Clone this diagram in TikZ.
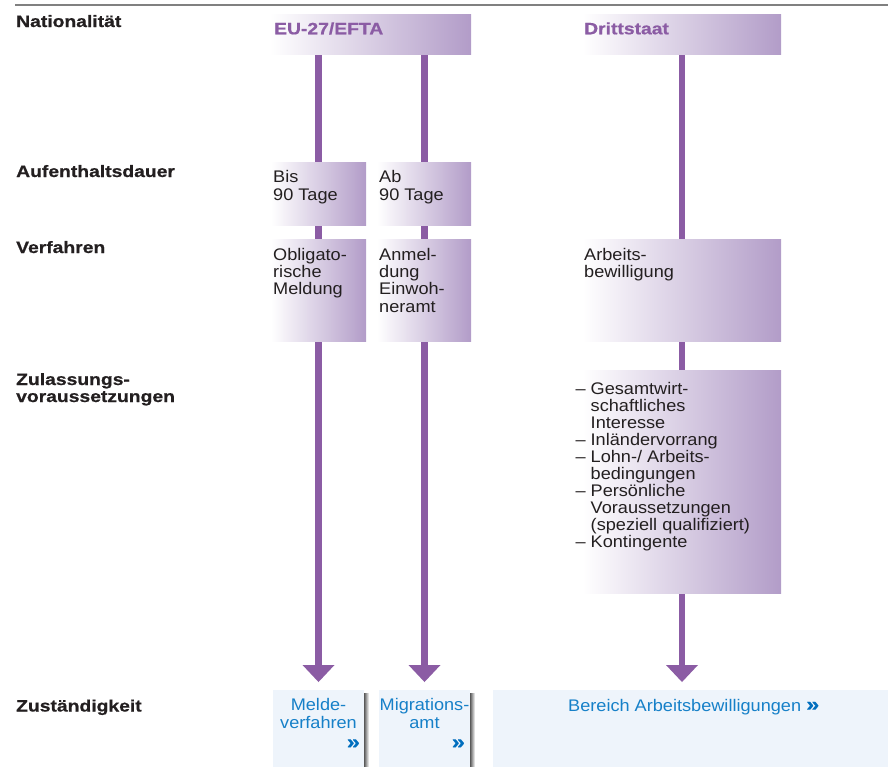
\documentclass[tikz,border=0pt]{standalone}
\usepackage{fontspec}
\setmainfont{Liberation Sans}
\newfontfamily\hv[FakeStretch=1.08]{Liberation Sans}
\newfontfamily\hvb[FakeStretch=1.17,BoldFeatures={FakeBold=0.7}]{Liberation Sans}
\usetikzlibrary{arrows.meta,backgrounds,calc}
\definecolor{stemc}{RGB}{139,92,164}
\definecolor{gradc}{RGB}{178,156,200}
\definecolor{hdrtxt}{RGB}{139,92,164}
\definecolor{bluetxt}{RGB}{22,128,200}
\definecolor{bluedark}{RGB}{0,110,190}
\definecolor{bluebox}{RGB}{238,244,251}
\definecolor{txtc}{RGB}{35,31,32}
\definecolor{rulec}{RGB}{128,128,128}
\newcommand{\LeftLines}[1]{\vtop{\halign{##\hfil\cr #1\crcr}}}
\newcommand{\MidLines}[1]{\vtop{\halign{\hfil##\hfil\cr #1\crcr}}}
\tikzset{
  gbox/.style={rectangle, draw=none, inner sep=0pt, outer sep=0pt, left color=white, right color=gradc, anchor=north west},
  bbox/.style={rectangle, draw=none, inner sep=0pt, outer sep=0pt, fill=bluebox, anchor=north west},
  lab/.style={font=\hvb\bfseries\fontsize{16.5}{17}\selectfont, text=txtc, inner sep=0pt, anchor=base west},
  hdr/.style={font=\hvb\bfseries\fontsize{16.5}{17}\selectfont, text=hdrtxt, inner sep=0pt, anchor=base west},
  txt/.style={font=\hv\fontsize{16.8}{17.4}\selectfont, text=txtc, inner sep=0pt, anchor=base west},
  btxt/.style={font=\hv\fontsize{16.8}{17.8}\selectfont, text=bluetxt, inner sep=0pt, anchor=base},
  chev/.style={font=\hvb\bfseries\fontsize{20}{20}\selectfont, text=bluedark, inner sep=0pt, anchor=east},
  stem/.style={draw=stemc, line width=6.5pt, -{Triangle[width=32pt,length=17pt,line width=0pt]}, shorten >=8pt},
  shadowc/.style={left color=black!65, right color=white, draw=none}
}
\newcommand{\chv}{{\color{bluedark}\hvb\bfseries\fontsize{20}{20}\selectfont »}}
\begin{document}
\begin{tikzpicture}[x=1pt,y=-1pt]
\useasboundingbox (0,0) rectangle (888,766);
\clip (0,0) rectangle (888,766);
% top rule
\coordinate (r1) at (15,5);
\coordinate (r2) at (888,5);
\draw[rulec, line width=1.8pt] (r1) -- (r2);

% row labels
\node[lab] (lnat) at (16,27) {Nationalität};
\node[lab] (lauf) at (16,177) {Aufenthaltsdauer};
\node[lab] (lver) at (16,253) {Verfahren};
\node[lab] (lzul) at (16,385) {\LeftLines{Zulassungs-\cr voraussetzungen}};
\node[lab] (lzus) at (16,711.5) {Zuständigkeit};

% headers
\node[gbox, minimum width=201pt, minimum height=40pt] (eu) at (270,14) {};
\node[hdr] (eut) at (274,34.3) {EU-27/EFTA};
\node[gbox, minimum width=198pt, minimum height=40pt] (dritt) at (583,14) {};
\node[hdr] (drt) at (584,34.3) {Drittstaat};

% Aufenthaltsdauer row
\node[gbox, minimum width=95pt, minimum height=63pt] (bis) at (271,162) {};
\node[txt] (bist) at (273,182.7) {\LeftLines{Bis\cr 90 Tage}};
\node[gbox, minimum width=94pt, minimum height=63pt] (ab) at (377,162) {};
\node[txt] (abt) at (379,182.7) {\LeftLines{Ab\cr 90 Tage}};

% Verfahren row
\node[gbox, minimum width=95pt, minimum height=102pt] (obl) at (271,239) {};
\node[txt] (oblt) at (273,260) {\LeftLines{Obligato-\cr rische\cr Meldung}};
\node[gbox, minimum width=94pt, minimum height=102pt] (anm) at (377,239) {};
\node[txt] (anmt) at (379,260) {\LeftLines{Anmel-\cr dung\cr Einwoh-\cr neramt}};
\node[gbox, minimum width=198pt, minimum height=102pt] (arb) at (583,239) {};
\node[txt] (arbt) at (584,260.5) {\LeftLines{Arbeits-\cr bewilligung}};

% Zulassungsvoraussetzungen
\node[gbox, minimum width=198pt, minimum height=223pt] (zul) at (583,370) {};
\node[txt, font=\hv\fontsize{16.8}{17}\selectfont] (zult) at (590.5,394) {\LeftLines{\llap{– }Gesamtwirt-\cr schaftliches\cr Interesse\cr \llap{– }Inländervorrang\cr \llap{– }Lohn-/ Arbeits-\cr bedingungen\cr \llap{– }Persönliche\cr Voraussetzungen\cr (speziell qualifiziert)\cr \llap{– }Kontingente}};

% Zuständigkeit boxes
\node[bbox, minimum width=91pt, minimum height=80pt] (mv) at (273,690) {};
\node[bbox, minimum width=91pt, minimum height=80pt] (mig) at (379,690) {};
\node[bbox, minimum width=400pt, minimum height=80pt] (ber) at (493,690) {};
\node[btxt] (mvt) at (318.5,710.7) {\MidLines{Melde-\cr verfahren}};
\node[chev] (mvc) at (360,744) {»};
\node[btxt] (migt) at (424.5,710.7) {\MidLines{Migrations-\cr amt}};
\node[chev] (migc) at (465,744) {»};
\node[btxt, anchor=base west] (bert) at (568,711) {Bereich Arbeitsbewilligungen \chv};

% connectors and shadows behind
\begin{scope}[on background layer]
\shade[shadowc] ($(mv.north east)+(0,3)$) rectangle ($(mv.south east)+(5,0)$);
\shade[shadowc] ($(mig.north east)+(0,3)$) rectangle ($(mig.south east)+(5,0)$);
\draw[stem] (eu.south -| mv.north) -- (mv.north);
\draw[stem] (eu.south -| mig.north) -- (mig.north);
\draw[stem] (dritt.south) -- (dritt.south |- ber.north);
\end{scope}
\end{tikzpicture}
\end{document}
